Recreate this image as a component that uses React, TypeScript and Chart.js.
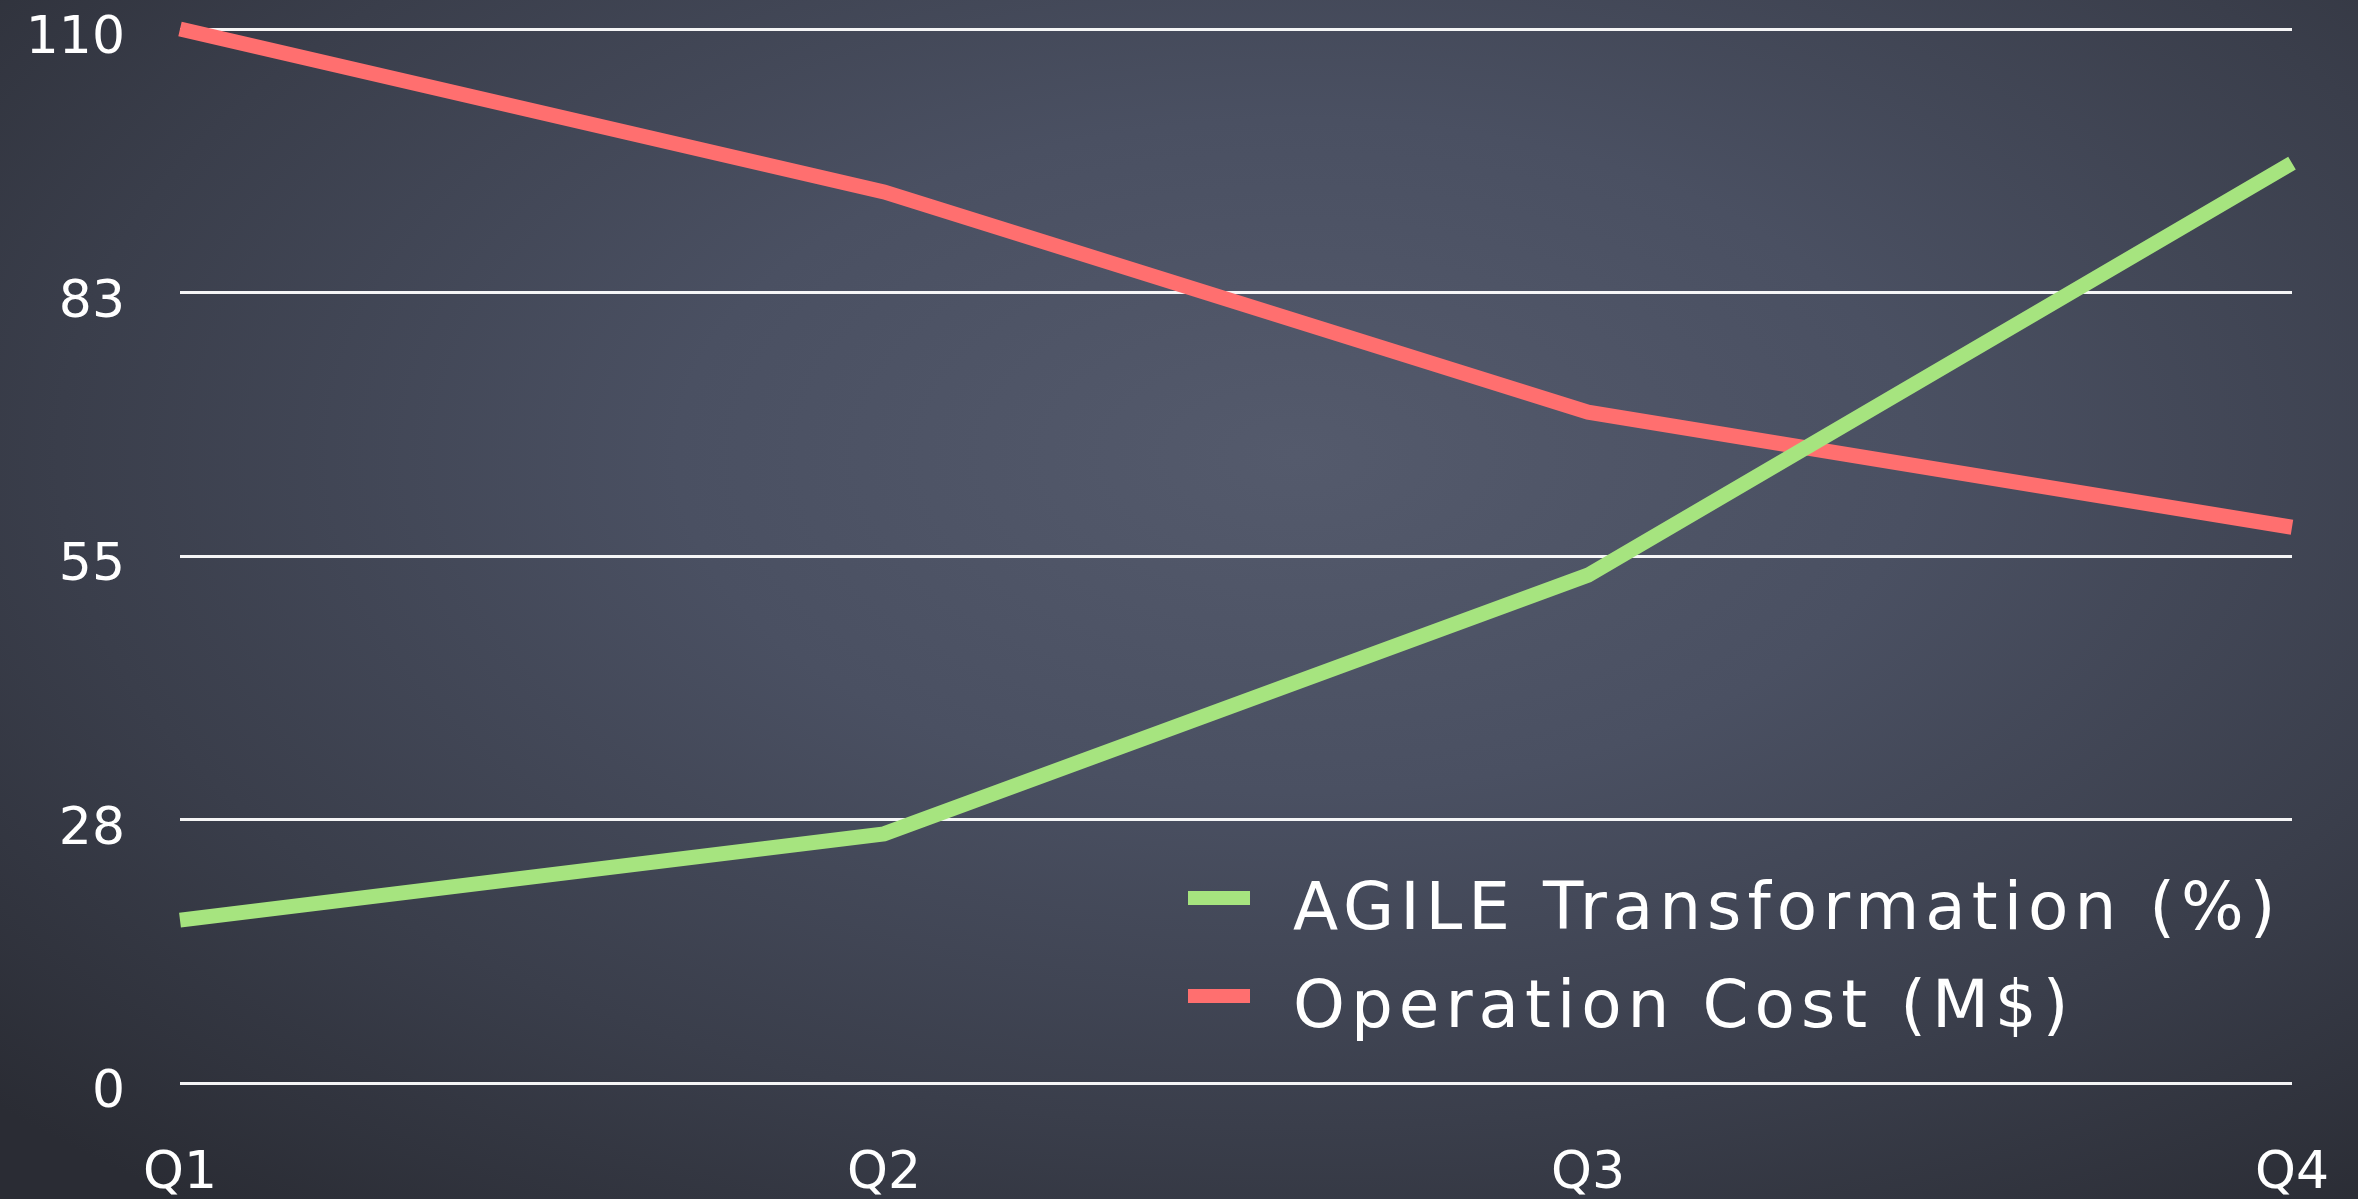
import React, { useEffect, useRef } from "react";
import { Chart, registerables } from "chart.js";

Chart.register(...registerables);

const categories = ["Q1", "Q2", "Q3", "Q4"];
const agileValues = [17, 26, 53, 96];
const costValues = [110, 93, 70, 58];
const seriesNames = ["AGILE Transformation (%)", "Operation Cost (M$)"];
const seriesColors = ["#a6e47f", "#ff6f6f"];
const yMin = 0;
const yMax = 110;
const yStep = 27.5;

const FONT = "'DejaVu Sans', sans-serif";

const legendPlugin = {
  id: "floatingLegend",
  afterDraw(chart: any) {
    const { ctx, chartArea } = chart;
    const baseX = chartArea.left + 1008;
    const baseY = chartArea.top + 869;
    const rowGap = 98;
    ctx.save();
    chart.data.datasets.forEach((ds: any, i: number) => {
      const y = baseY + i * rowGap;
      ctx.fillStyle = ds.borderColor;
      ctx.fillRect(baseX, y - 7, 62, 14);
      ctx.fillStyle = "#ffffff";
      ctx.font = `66px ${FONT}`;
      try {
        ctx.letterSpacing = "6px";
      } catch (e) {}
      ctx.textBaseline = "middle";
      ctx.textAlign = "left";
      ctx.fillText(ds.label, baseX + 105, y + 14);
    });
    ctx.restore();
  },
};

function ChalkChart() {
  const ref = useRef<HTMLCanvasElement | null>(null);
  useEffect(() => {
    if (!ref.current) return;
    const chart = new Chart(ref.current, {
      type: "line",
      data: {
        labels: categories,
        datasets: [
          {
            label: seriesNames[0],
            data: agileValues,
            borderColor: seriesColors[0],
            backgroundColor: seriesColors[0],
            borderWidth: 15,
            pointRadius: 0,
            tension: 0,
            borderCapStyle: "butt",
            clip: 20,
          },
          {
            label: seriesNames[1],
            data: costValues,
            borderColor: seriesColors[1],
            backgroundColor: seriesColors[1],
            borderWidth: 15,
            pointRadius: 0,
            tension: 0,
            borderCapStyle: "butt",
            clip: 20,
          },
        ],
      },
      options: {
        animation: false,
        responsive: false,
        maintainAspectRatio: false,
        layout: {
          autoPadding: false,
          padding: { top: 29, right: 66, left: 0, bottom: 0 },
        },
        plugins: {
          legend: { display: false },
          tooltip: { enabled: false },
        },
        scales: {
          x: {
            offset: false,
            grid: { display: false, drawTicks: false },
            border: { display: false },
            ticks: {
              color: "#ffffff",
              font: { family: FONT, size: 52 },
              padding: 60,
              maxRotation: 0,
              autoSkip: false,
            },
            afterFit(scale: any) {
              scale.height = 116;
              scale.paddingLeft = 0;
              scale.paddingRight = 0;
            },
          },
          y: {
            min: yMin,
            max: yMax,
            grid: {
              color: "rgba(255,255,255,0.95)",
              lineWidth: 3,
              drawTicks: false,
            },
            border: { display: false },
            ticks: {
              stepSize: yStep,
              color: "#ffffff",
              font: { family: FONT, size: 52, lineHeight: 0.42 },
              padding: 55,
              callback: (v: any) => ["", String(Math.round(Number(v)))],
            },
            afterFit(scale: any) {
              scale.width = 180;
              scale.paddingTop = 0;
              scale.paddingBottom = 0;
            },
          },
        },
      },
      plugins: [legendPlugin],
    } as any);
    return () => chart.destroy();
  }, []);
  return <canvas ref={ref} width={2358} height={1199} style={{ display: "block" }} />;
}

export default function App() {
  return (
    <div
      style={{
        position: "absolute",
        left: 0,
        top: 0,
        width: 2358,
        height: 1199,
        overflow: "hidden",
        background:
          "radial-gradient(ellipse 75% 80% at 55% 38%, #545a6c 0%, #4a5062 35%, #3a3e4b 70%, #2a2c34 100%)",
      }}
    >
      <ChalkChart />
    </div>
  );
}
